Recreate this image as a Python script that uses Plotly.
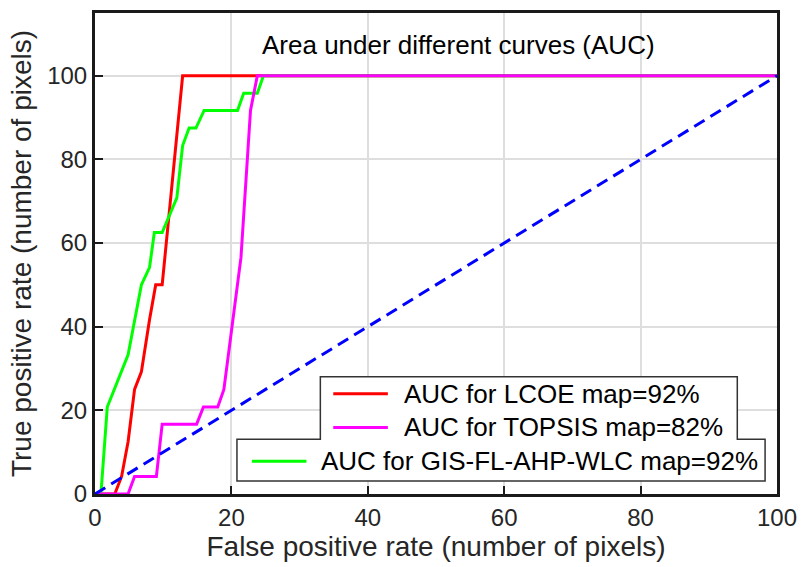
import plotly.graph_objects as go

# ---------------- data ----------------
lcoe_fpr = [0, 2.9, 3.9, 4.85, 5.8, 6.8, 8.0, 8.9, 9.85, 12.85, 100]
lcoe_tpr = [0, 0, 4.2, 12.5, 25.0, 29.2, 41.7, 50.0, 50.0, 100, 100]

topsis_fpr = [0, 4.85, 5.8, 9.0, 9.85, 14.9, 15.9, 18.0, 18.9, 20.1, 20.6, 21.4, 22.8, 23.8, 100]
topsis_tpr = [0, 0, 4.2, 4.2, 16.7, 16.7, 20.8, 20.8, 25.0, 39.7, 45.8, 56.5, 91.7, 100, 100]

gis_fpr = [0, 0.87, 1.8, 4.85, 5.6, 6.8, 8.0, 8.7, 9.85, 12.0, 12.85, 13.8, 14.8, 16.0, 20.9, 21.8, 23.8, 24.7, 100]
gis_tpr = [0, 0, 20.8, 33.3, 39.7, 50.0, 54.2, 62.5, 62.5, 70.8, 83.3, 87.5, 87.5, 91.7, 91.7, 95.8, 95.8, 100, 100]

ref_fpr = [0, 100]
ref_tpr = [0, 100]

x_ticks = [0, 20, 40, 60, 80, 100]
y_ticks = [0, 20, 40, 60, 80, 100]

legend_labels = ["AUC for LCOE map=92%", "AUC for TOPSIS map=82%", "AUC for GIS-FL-AHP-WLC map=92%"]
chart_title = "Area under different curves (AUC)"
x_title = "False positive rate (number of pixels)"
y_title = "True positive rate (number of pixels)"

# ---------------- figure ----------------
W, H = 807, 567
L, R, T, B = 95, 25, 10, 73
PW, PH = W - L - R, H - T - B
FONT = "Liberation Sans, Arial, sans-serif"


def px(xp):
    return (xp - L) / PW


def py(yp):
    return (H - B - yp) / PH


fig = go.Figure()
fig.add_trace(go.Scatter(x=lcoe_fpr, y=lcoe_tpr, mode="lines",
                         line=dict(color="#ff0000", width=3), showlegend=False))
fig.add_trace(go.Scatter(x=gis_fpr, y=gis_tpr, mode="lines",
                         line=dict(color="#00ff00", width=3), showlegend=False))
fig.add_trace(go.Scatter(x=topsis_fpr, y=topsis_tpr, mode="lines",
                         line=dict(color="#ff00ff", width=3), showlegend=False))
fig.add_trace(go.Scatter(x=ref_fpr, y=ref_tpr, mode="lines",
                         line=dict(color="#0000ff", width=3, dash="12px,7px"), showlegend=False))

# custom stepped legend box
outline = [(322, 376), (742, 376), (742, 439), (770, 439), (770, 481), (238, 481), (238, 439), (322, 439)]
path = "M " + " L ".join(f"{px(a):.5f},{py(b):.5f}" for a, b in outline) + " Z"
shapes = [dict(type="path", path=path, xref="paper", yref="paper",
               line=dict(color="#333333", width=1.5), fillcolor="white", layer="above")]
samples = [((335, 390), 393, "#ff0000"), ((335, 390), 427, "#ff00ff"), ((253, 308), 461, "#00ff00")]
for (x0, x1), yy, col in samples:
    shapes.append(dict(type="line", xref="paper", yref="paper",
                       x0=px(x0), x1=px(x1), y0=py(yy), y1=py(yy),
                       line=dict(color=col, width=3), layer="above"))

text_pos = [(404, 393), (404, 427), (321, 461)]
annotations = []
for lab, (tx, ty) in zip(legend_labels, text_pos):
    annotations.append(dict(text=lab, x=px(tx), y=py(ty), xref="paper", yref="paper",
                            xanchor="left", yanchor="middle", showarrow=False,
                            font=dict(family=FONT, size=26, color="#000000")))
annotations.append(dict(text=chart_title, x=px(461), y=py(42), xref="paper", yref="paper",
                        xanchor="center", yanchor="middle", showarrow=False,
                        font=dict(family=FONT, size=26, color="#000000")))

fig.update_layout(
    width=W, height=H,
    margin=dict(l=L, r=R, t=T, b=B, pad=0),
    paper_bgcolor="white", plot_bgcolor="white",
    font=dict(family=FONT, size=24, color="#262626"),
    shapes=shapes, annotations=annotations,
    showlegend=False,
)
fig.update_xaxes(
    range=[0, 100], tickvals=x_ticks, ticktext=[str(v) for v in x_ticks],
    showgrid=True, gridcolor="#dedede", gridwidth=2, zeroline=False,
    showline=True, linecolor="#1a1a1a", linewidth=3, mirror=True,
    ticks="inside", ticklen=8, tickwidth=2, tickcolor="#1a1a1a",
    tickfont=dict(size=24, color="#262626"),
    title=dict(text=x_title, font=dict(size=28, color="#262626"), standoff=7),
)
fig.update_yaxes(
    range=[0, 115], tickvals=y_ticks, ticktext=[str(v) for v in y_ticks],
    showgrid=True, gridcolor="#dedede", gridwidth=2, zeroline=False,
    showline=True, linecolor="#1a1a1a", linewidth=3, mirror=True,
    ticks="inside", ticklen=8, tickwidth=2, tickcolor="#1a1a1a",
    tickfont=dict(size=24, color="#262626"),
    title=dict(text=y_title, font=dict(size=28, color="#262626"), standoff=8),
)

fig.write_html("out.html")
